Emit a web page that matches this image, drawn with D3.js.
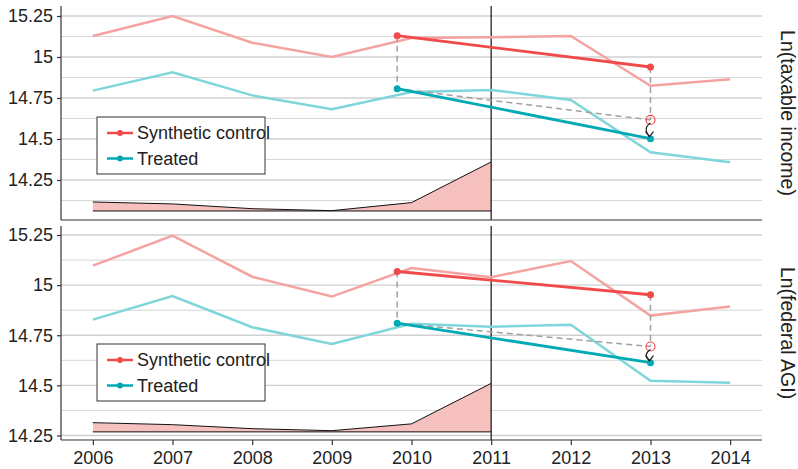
<!DOCTYPE html>
<html>
<head>
<meta charset="utf-8">
<script src="https://cdn.jsdelivr.net/npm/d3@7"></script>
<style>
body { margin: 0; background: #fff; }
text { font-family: "Liberation Sans", Arial, sans-serif; fill: #222; }
</style>
</head>
<body>
<script>

// values
var years = [2006, 2007, 2008, 2009, 2010, 2011, 2012, 2013, 2014];
var gapYears = [2006, 2007, 2008, 2009, 2010, 2011];

var taxSynth   = [15.128, 15.250, 15.087, 15.000, 15.116, 15.120, 15.128, 14.825, 14.864];
var taxTreated = [14.795, 14.907, 14.766, 14.681, 14.787, 14.799, 14.738, 14.419, 14.358];
var taxGap     = [14.116, 14.104, 14.075, 14.063, 14.112, 14.360];
var taxGapBase = 14.061;
var taxSynthAvg   = [15.130, 14.939];   // pre, post
var taxTreatedAvg = [14.807, 14.502];

var agiSynth   = [15.097, 15.247, 15.042, 14.943, 15.085, 15.040, 15.120, 14.848, 14.893];
var agiTreated = [14.828, 14.945, 14.790, 14.707, 14.807, 14.793, 14.802, 14.523, 14.513];
var agiGap     = [14.314, 14.304, 14.284, 14.274, 14.308, 14.510];
var agiGapBase = 14.268;
var agiSynthAvg   = [15.068, 14.952];
var agiTreatedAvg = [14.810, 14.613];

var yTicks = [14.25, 14.5, 14.75, 15, 15.25];
var yMinor = [14.125, 14.375, 14.625, 14.875, 15.125];
var seriesNames = ["Synthetic control", "Treated"];
var avgYears = [2009.82, 2013];
var treatYear = 2011;

var width = 798, height = 469;
var left = 61, right = 762;
var red = "#f04a4a", teal = "#00aab5",
    redLight = "#f5a3a1", tealLight = "#7fd6da";

var svg = d3.select("body").append("svg")
    .attr("width", width)
    .attr("height", height);

var x = d3.scaleLinear()
    .domain([2005.6, 2014.4])
    .range([left, right]);

function panel(cfg) {
  var y = d3.scaleLinear().domain(cfg.domain).range(cfg.range);
  var g = svg.append("g");
  var top = cfg.range[1], bottom = cfg.range[0];

  // grid
  g.selectAll(".minor").data(yMinor.filter(function(d){ return y(d) > top && y(d) < bottom; }))
    .enter().append("line")
      .attr("x1", left).attr("x2", right)
      .attr("y1", function(d){ return y(d); })
      .attr("y2", function(d){ return y(d); })
      .attr("stroke", "#d6d6d6").attr("stroke-width", 1);
  g.selectAll(".major").data(yTicks)
    .enter().append("line")
      .attr("x1", left).attr("x2", right)
      .attr("y1", function(d){ return y(d); })
      .attr("y2", function(d){ return y(d); })
      .attr("stroke", "#d0d0d0").attr("stroke-width", 1.3);

  // gap area
  var area = d3.area()
      .x(function(d, i){ return x(gapYears[i]); })
      .y0(y(cfg.base))
      .y1(function(d){ return y(d); });
  g.append("path").datum(cfg.gap)
      .attr("d", area)
      .attr("fill", "#f6c0bf");
  g.append("path").datum(cfg.gap)
      .attr("d", d3.line().x(function(d, i){ return x(gapYears[i]); }).y(function(d){ return y(d); }))
      .attr("fill", "none").attr("stroke", "#111").attr("stroke-width", 1);
  g.append("line")
      .attr("x1", x(gapYears[0])).attr("x2", x(treatYear))
      .attr("y1", y(cfg.base)).attr("y2", y(cfg.base))
      .attr("stroke", "#111").attr("stroke-width", 1);

  // treatment year
  g.append("line")
      .attr("x1", x(treatYear)).attr("x2", x(treatYear))
      .attr("y1", top).attr("y2", bottom)
      .attr("stroke", "#111").attr("stroke-width", 1.2);

  // yearly series
  var line = d3.line()
      .x(function(d, i){ return x(years[i]); })
      .y(function(d){ return y(d); });
  g.append("path").datum(cfg.synth)
      .attr("d", line).attr("fill", "none")
      .attr("stroke", redLight).attr("stroke-width", 2.5);
  g.append("path").datum(cfg.treated)
      .attr("d", line).attr("fill", "none")
      .attr("stroke", tealLight).attr("stroke-width", 2.5);

  // diff-in-diff construction
  var cf = cfg.treatedAvg[0] + (cfg.synthAvg[1] - cfg.synthAvg[0]);
  var dash = function(x1, y1, x2, y2) {
    g.append("line")
      .attr("x1", x(x1)).attr("y1", y(y1))
      .attr("x2", x(x2)).attr("y2", y(y2))
      .attr("stroke", "#a0a0a0").attr("stroke-width", 1.5)
      .attr("stroke-dasharray", "6,4");
  };
  dash(avgYears[0], cfg.synthAvg[0], avgYears[0], cfg.treatedAvg[0]);
  dash(avgYears[0], cfg.treatedAvg[0], avgYears[1], cf);
  dash(avgYears[1], cfg.synthAvg[1], avgYears[1], cf);

  var avgLine = d3.line()
      .x(function(d, i){ return x(avgYears[i]); })
      .y(function(d){ return y(d); });
  [[cfg.synthAvg, red], [cfg.treatedAvg, teal]].forEach(function(s) {
    g.append("path").datum(s[0])
        .attr("d", avgLine).attr("fill", "none")
        .attr("stroke", s[1]).attr("stroke-width", 2.8);
    g.selectAll(null).data(s[0]).enter().append("circle")
        .attr("cx", function(d, i){ return x(avgYears[i]); })
        .attr("cy", function(d){ return y(d); })
        .attr("r", 3.5).attr("fill", s[1]);
  });

  g.append("circle")
      .attr("cx", x(avgYears[1])).attr("cy", y(cf))
      .attr("r", 4.5).attr("fill", "none")
      .attr("stroke", red).attr("stroke-width", 1.2);

  // curved arrow down to the treated value, open head drawn by hand
  var ax = x(avgYears[1]), ay0 = y(cf) + 3, ay1 = y(cfg.treatedAvg[1]) - 2;
  g.append("path")
      .attr("d", "M" + ax + "," + ay0 + " Q" + (ax - 8) + "," + (ay0 + 5) + " " + (ax - 1) + "," + ay1)
      .attr("fill", "none").attr("stroke", "#222").attr("stroke-width", 1.2);
  g.append("path")
      .attr("d", "M" + (ax - 5) + "," + (ay1 - 5) + " L" + (ax - 1) + "," + ay1 + " L" + (ax + 3) + "," + (ay1 - 5))
      .attr("fill", "none").attr("stroke", "#222").attr("stroke-width", 1.2);

  // axes
  var yAxis = d3.axisLeft(y).tickValues(yTicks).tickSize(4).tickPadding(4)
      .tickFormat(function(d){ return String(d); });
  var ya = g.append("g").attr("transform", "translate(" + left + ",0)").call(yAxis);
  ya.select(".domain").attr("d", "M0," + top + "V" + bottom);
  ya.selectAll("line, .domain").attr("stroke", "#333").attr("stroke-width", 1.2);
  ya.selectAll("text").style("font-size", "18px").attr("fill", "#222");

  var xa = g.append("g").attr("transform", "translate(0," + bottom + ")");
  if (cfg.xLabels) {
    xa.call(d3.axisBottom(x).tickValues(years).tickSize(5).tickPadding(6).tickFormat(d3.format("d")));
    xa.selectAll("text").style("font-size", "18px").attr("fill", "#222");
  } else {
    xa.call(d3.axisBottom(x).tickValues([]).tickSizeOuter(0));
  }
  xa.select(".domain").attr("d", "M" + left + ",0H" + right);
  xa.selectAll("line, .domain").attr("stroke", "#333").attr("stroke-width", 1.2);

  // right strip label
  g.append("text")
      .attr("transform", "translate(788," + ((top + bottom) / 2) + ") rotate(90)")
      .attr("text-anchor", "middle")
      .attr("dominant-baseline", "central")
      .style("font-size", "19.5px")
      .text(cfg.label);

  // legend
  var lg = g.append("g").attr("transform", "translate(97," + cfg.legendTop + ")");
  lg.append("rect")
      .attr("width", 168).attr("height", 57)
      .attr("fill", "#fff").attr("stroke", "#333").attr("stroke-width", 1);
  seriesNames.forEach(function(name, i) {
    var cy = 16 + i * 25.5, col = i === 0 ? red : teal;
    lg.append("line").attr("x1", 10).attr("x2", 36).attr("y1", cy).attr("y2", cy)
        .attr("stroke", col).attr("stroke-width", 2.5);
    lg.append("circle").attr("cx", 23).attr("cy", cy).attr("r", 3).attr("fill", col);
    lg.append("text").attr("x", 40).attr("y", cy).attr("dy", "0.35em")
        .style("font-size", "18px").text(name);
  });
}

panel({
  domain: [14.006, 15.311], range: [220, 6],
  synth: taxSynth, treated: taxTreated,
  gap: taxGap, base: taxGapBase,
  synthAvg: taxSynthAvg, treatedAvg: taxTreatedAvg,
  label: "Ln(taxable income)", legendTop: 117, xLabels: false
});

panel({
  domain: [14.2275, 15.295], range: [440, 226],
  synth: agiSynth, treated: agiTreated,
  gap: agiGap, base: agiGapBase,
  synthAvg: agiSynthAvg, treatedAvg: agiTreatedAvg,
  label: "Ln(federal AGI)", legendTop: 344, xLabels: true
});

</script>
</body>
</html>
